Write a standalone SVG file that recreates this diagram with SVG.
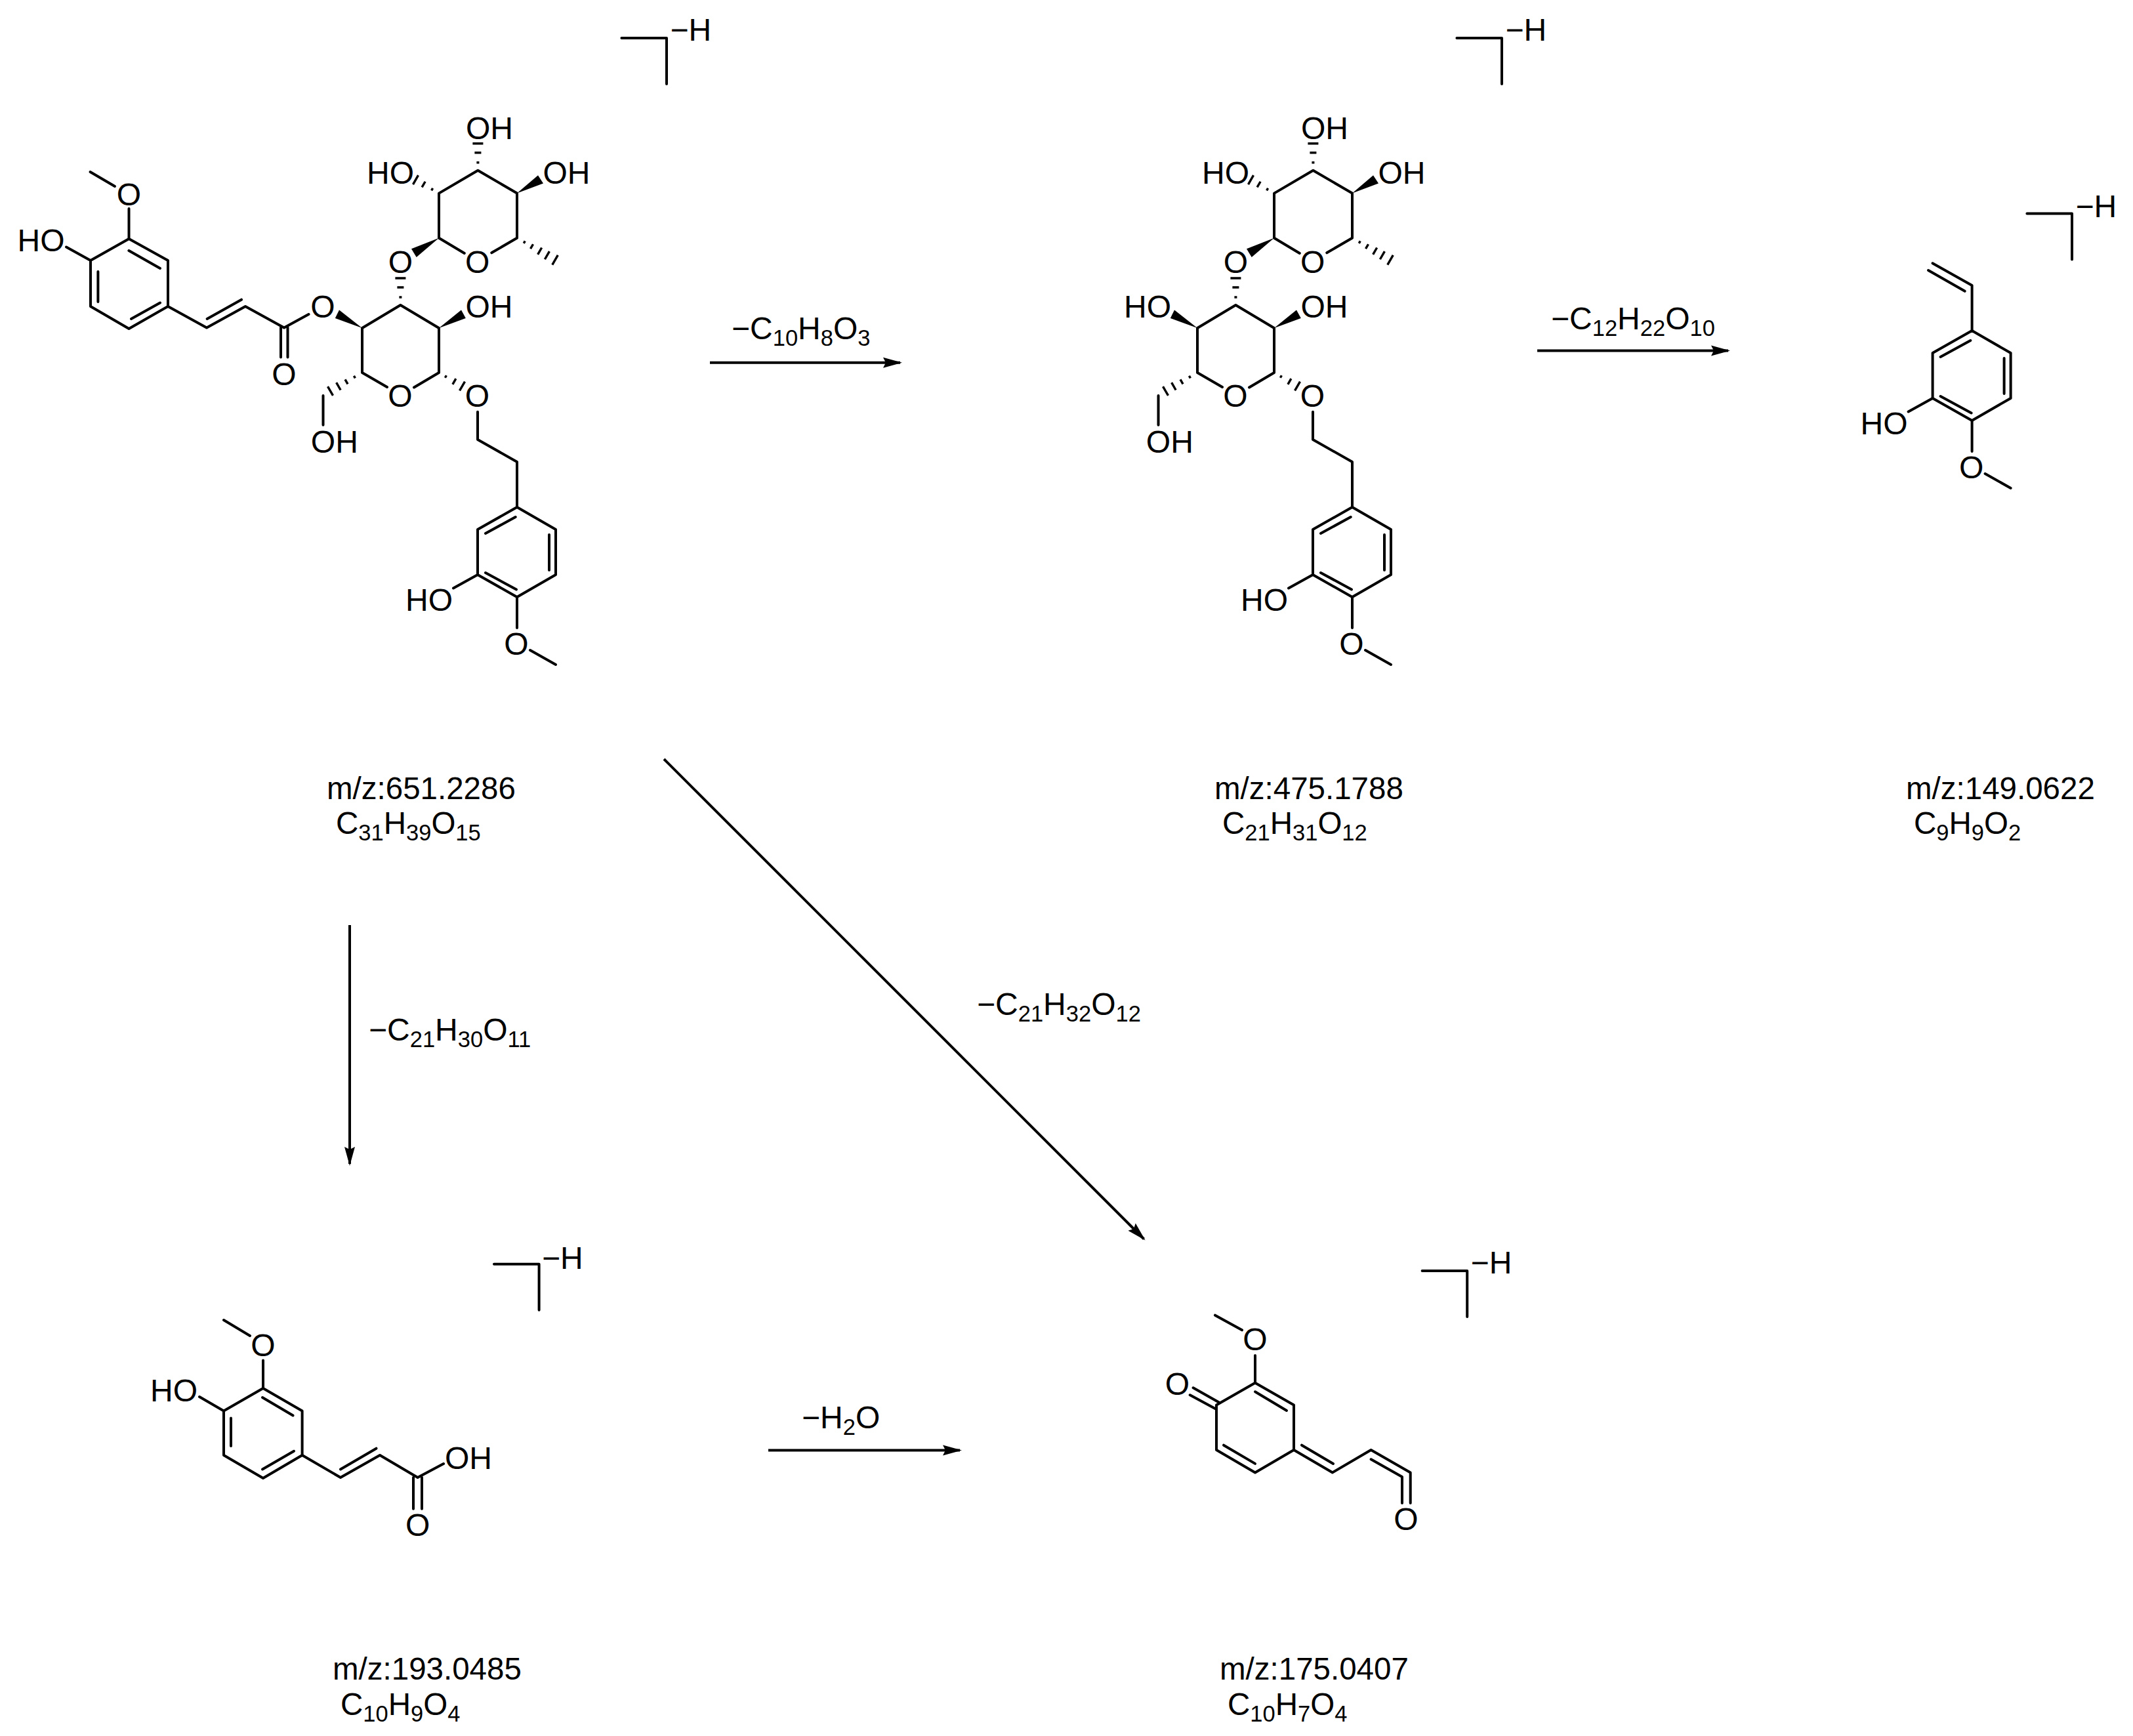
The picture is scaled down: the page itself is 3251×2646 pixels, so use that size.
<svg xmlns="http://www.w3.org/2000/svg" width="3251" height="2646" viewBox="0 0 3251 2646">
<style>
text{font-family:"Liberation Sans",Arial,sans-serif;fill:#000}
.a{font-size:48px}
.z{font-size:47.5px}
.m{text-anchor:middle}
.s{font-size:34.5px}
.b{fill:none;stroke:#000;stroke-width:4;stroke-linecap:round;stroke-linejoin:round}
.w{fill:#000}
.c{fill:none;stroke:#000;stroke-width:4}
</style>
<defs>
<marker id="arrow" markerUnits="userSpaceOnUse" markerWidth="36" markerHeight="22" refX="29" refY="11" orient="auto" viewBox="0 0 36 22"><path d="M32,11 L3,3 L7,11 L3,19 Z" fill="#000"/></marker>
<path id="h3" fill="none" stroke="#000" stroke-width="3.4" d="M12,-2V2M27,-5V5M41,-8V8"/>
<path id="h4" fill="none" stroke="#000" stroke-width="3.4" d="M13.4,-2V2M27.7,-4V4M41.7,-6.5V6.5M56,-8V8"/>
<path id="h5" fill="none" stroke="#000" stroke-width="3.4" d="M13,-2V2M26,-4V4M40,-6V6M53,-7V7M67,-8.5V8.5"/>
<g id="glyco-bonds">
<path class="b" d="M707.8,386L669,362.7V294.6L728.4,259.7L788,294.6V362.7L749.3,385.3"/>
<path class="b" d="M590,590L552,568V500L610.4,465L669,500V568L631,590.5"/>
<path class="b" d="M492.5,603V647.7M728,627.8V670L788,704V773"/>
<polygon class="w" points="669,362.7 627,379.3 634.7,392"/>
<polygon class="w" points="788,294.6 820,267.3 828,279.6"/>
<polygon class="w" points="669,500 703,472.6 709.8,485"/>
<polygon class="w" points="552,500 517,472.6 510.8,485"/>
<use href="#h3" transform="translate(728.4,259.7) rotate(-90)"/>
<use href="#h3" transform="translate(669,294.6) rotate(210)"/>
<use href="#h5" transform="translate(788,362.7) rotate(30)"/>
<use href="#h3" transform="translate(610.4,465) rotate(-90)"/>
<use href="#h4" transform="translate(552,568) rotate(150)"/>
<use href="#h3" transform="translate(669,568) rotate(30)"/>
</g>
<g id="arene-bonds">
<path class="b" d="M788,773L847,807V876L788,910L728,876V807Z"/>
<path class="b" d="M785.7,788L740,813M837,815V869M740,873L787,898.5"/>
<path class="b" d="M728,876L691,896.5M788,910V957M808,991L847,1013"/>
</g>
<path id="bracket" class="b" d="M0,0H68.6V70"/>
</defs>
<rect width="3251" height="2646" fill="#fff"/>
<g id="connectors">
<line class="c" x1="1082" y1="552.7" x2="1372" y2="552.7" marker-end="url(#arrow)"/>
<line class="c" x1="2343" y1="534.5" x2="2634" y2="534.5" marker-end="url(#arrow)"/>
<line class="c" x1="533" y1="1410" x2="533" y2="1774" marker-end="url(#arrow)"/>
<line class="c" x1="1012" y1="1157" x2="1743.5" y2="1888.5" marker-end="url(#arrow)"/>
<line class="c" x1="1171" y1="2210.5" x2="1463" y2="2210.5" marker-end="url(#arrow)"/>
</g>
<g id="label-r1"><text class="a" x="1115" y="517">−C<tspan class="s" dy="10">10</tspan><tspan dy="-10">H</tspan><tspan class="s" dy="10">8</tspan><tspan dy="-10">O</tspan><tspan class="s" dy="10">3</tspan></text></g>
<g id="label-r2"><text class="a" x="2364" y="502">−C<tspan class="s" dy="10">12</tspan><tspan dy="-10">H</tspan><tspan class="s" dy="10">22</tspan><tspan dy="-10">O</tspan><tspan class="s" dy="10">10</tspan></text></g>
<g id="label-r3"><text class="a" x="562" y="1586">−C<tspan class="s" dy="10">21</tspan><tspan dy="-10">H</tspan><tspan class="s" dy="10">30</tspan><tspan dy="-10">O</tspan><tspan class="s" dy="10">11</tspan></text></g>
<g id="label-r4"><text class="a" x="1489" y="1547">−C<tspan class="s" dy="10">21</tspan><tspan dy="-10">H</tspan><tspan class="s" dy="10">32</tspan><tspan dy="-10">O</tspan><tspan class="s" dy="10">12</tspan></text></g>
<g id="label-r5"><text class="a" x="1222" y="2177">−H<tspan class="s" dy="10">2</tspan><tspan dy="-10">O</tspan></text></g>
<g id="mol-651">
<use href="#bracket" x="947.4" y="58"/>
<text class="a" x="1021.5" y="62">−H</text>
<use href="#glyco-bonds"/>
<use href="#arene-bonds"/>
<path class="b" d="M470.5,479L433,499.5L374,467L315,499.5L256,467V397L196.5,364L138,397V467L196.5,501L256,467"/>
<path class="b" d="M196.4,382L244,409M149.4,414V460M200,486L244,461.5M315.7,486L368,456.7M428,499.3V544.6M438.5,499.3V544.6"/>
<path class="b" d="M196.5,364V318M137.5,262L175,284M138,397L101,376.5"/>
<text class="a" x="710" y="212">OH</text>
<text class="a" x="559" y="280">HO</text>
<text class="a" x="827.5" y="280">OH</text>
<text class="a m" x="610.4" y="415.8">O</text>
<text class="a m" x="727.7" y="415.8">O</text>
<text class="a" x="709.5" y="484">OH</text>
<text class="a m" x="492" y="484">O</text>
<text class="a m" x="433" y="587">O</text>
<text class="a m" x="610" y="620">O</text>
<text class="a m" x="727.4" y="620">O</text>
<text class="a" x="473.8" y="689.5">OH</text>
<text class="a m" x="196.5" y="313">O</text>
<text class="a" x="26.5" y="382.5">HO</text>
<text class="a" x="618" y="931">HO</text>
<text class="a m" x="787" y="998">O</text>
<text class="z" x="498" y="1217.5">m/z:651.2286</text>
<text class="z" x="512" y="1270.7">C<tspan class="s" dy="10">31</tspan><tspan dy="-10">H</tspan><tspan class="s" dy="10">39</tspan><tspan dy="-10">O</tspan><tspan class="s" dy="10">15</tspan></text>
</g>
<g id="mol-475" transform="translate(1273,0)">
<use href="#bracket" x="947.4" y="58"/>
<text class="a" x="1021.5" y="62">−H</text>
<use href="#glyco-bonds"/>
<use href="#arene-bonds"/>
<text class="a" x="710" y="212">OH</text>
<text class="a" x="559" y="280">HO</text>
<text class="a" x="827.5" y="280">OH</text>
<text class="a m" x="610.4" y="415.8">O</text>
<text class="a m" x="727.7" y="415.8">O</text>
<text class="a" x="709.5" y="484">OH</text>
<text class="a" x="440" y="484">HO</text>
<text class="a m" x="610" y="620">O</text>
<text class="a m" x="727.4" y="620">O</text>
<text class="a" x="473.8" y="689.5">OH</text>
<text class="a" x="618" y="931">HO</text>
<text class="a m" x="787" y="998">O</text>
<text class="z" x="578" y="1217.5">m/z:475.1788</text>
<text class="z" x="590" y="1270.7">C<tspan class="s" dy="10">21</tspan><tspan dy="-10">H</tspan><tspan class="s" dy="10">31</tspan><tspan dy="-10">O</tspan><tspan class="s" dy="10">12</tspan></text>
</g>
<g id="mol-149">
<use href="#bracket" x="3089.4" y="325.5"/>
<text class="a" x="3163.5" y="330.5">−H</text>
<use href="#arene-bonds" transform="translate(2217.6,-269)"/>
<path class="b" d="M3005.6,504V435L2945.5,401.3M2939,412L2994.7,443.8"/>
<text class="a" x="2835.5" y="662">HO</text>
<text class="a m" x="3004.6" y="729">O</text>
<text class="z" x="2905" y="1217.5">m/z:149.0622</text>
<text class="z" x="2917" y="1270.7">C<tspan class="s" dy="10">9</tspan><tspan dy="-10">H</tspan><tspan class="s" dy="10">9</tspan><tspan dy="-10">O</tspan><tspan class="s" dy="10">2</tspan></text>
</g>
<g id="mol-193">
<use href="#bracket" x="753" y="1926.8"/>
<text class="a" x="826" y="1933.5">−H</text>
<path class="b" d="M401,2116L460.6,2150.5V2218L401,2253L341,2218V2150.5Z"/>
<path class="b" d="M400,2130L446.6,2157.5M352,2161.5V2204M400,2239.4L448,2211.8"/>
<path class="b" d="M401,2116V2073.6M341,2012L381,2036M341,2150.5L304,2129"/>
<path class="b" d="M460.6,2218L519,2252L579,2218L636.6,2252L676,2231M519,2239.4L573.5,2207.7M630,2252V2299.7M643,2252V2299.7"/>
<text class="a m" x="401" y="2066.5">O</text>
<text class="a" x="229" y="2136">HO</text>
<text class="a" x="678" y="2238.5">OH</text>
<text class="a m" x="636.6" y="2340.5">O</text>
<text class="z" x="507" y="2559.5">m/z:193.0485</text>
<text class="z" x="519" y="2614">C<tspan class="s" dy="10">10</tspan><tspan dy="-10">H</tspan><tspan class="s" dy="10">9</tspan><tspan dy="-10">O</tspan><tspan class="s" dy="10">4</tspan></text>
</g>
<g id="mol-175">
<use href="#bracket" x="2167.6" y="1936.9"/>
<text class="a" x="2241.6" y="1941">−H</text>
<path class="b" d="M1913,2107.7L1972,2141.4V2210L1913,2244.4L1854,2210V2141.4Z"/>
<path class="b" d="M1913,2121.3L1961,2150M1865,2202.7L1913,2230.9"/>
<path class="b" d="M1913,2107.7V2066M1852,2004.7L1893,2027.3M1858.8,2137.9L1818.6,2115.3M1853,2147.4L1813.7,2126.3"/>
<path class="b" d="M1972,2210L2031,2244.4L2089.6,2210L2149.7,2244.4V2291M1984,2202.7L2032,2231M2089.6,2224.3L2137,2251V2291"/>
<text class="a m" x="1913" y="2057.5">O</text>
<text class="a m" x="1794.5" y="2126.4">O</text>
<text class="a m" x="2142.8" y="2331.5">O</text>
<text class="z" x="1859" y="2559.5">m/z:175.0407</text>
<text class="z" x="1871" y="2614">C<tspan class="s" dy="10">10</tspan><tspan dy="-10">H</tspan><tspan class="s" dy="10">7</tspan><tspan dy="-10">O</tspan><tspan class="s" dy="10">4</tspan></text>
</g>
</svg>
